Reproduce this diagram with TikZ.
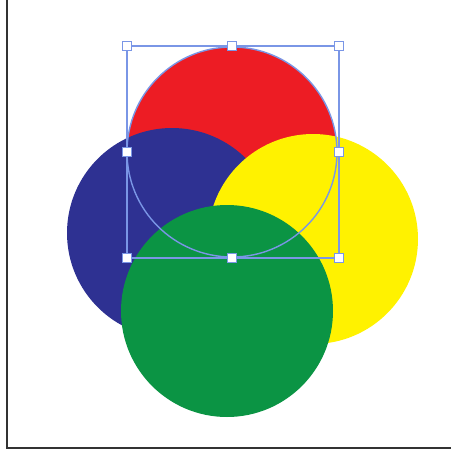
\documentclass[tikz,border=0pt]{standalone}
\usetikzlibrary{positioning}

\definecolor{discred}{HTML}{ED1C24}
\definecolor{discblue}{HTML}{2E3192}
\definecolor{discyellow}{HTML}{FFF200}
\definecolor{discgreen}{HTML}{0B9444}
\definecolor{selblue}{HTML}{7A96E6}

\tikzset{
  handle/.style={draw=selblue,fill=white,line width=.5pt,minimum size=5.5pt,inner sep=0pt,rectangle},
}

\begin{document}
\begin{tikzpicture}[x=0.02cm,y=-0.02cm]
\useasboundingbox (0,0) rectangle (451,454);
\fill[white] (0,0) rectangle (451,454);
% window edge
\draw[black!80,line width=1.2pt] (7,0)--(7,448)--(451,448);
% the four discs
\fill[discred] (232,152) circle (105);
\fill[discblue] (172,233) circle (105);
\fill[discyellow] (313,239) circle (105);
\fill[discgreen] (227,311) circle (106);
% selected path and its bounding box
\draw[selblue,line width=.8pt] (232,152) circle (105);
\draw[selblue,line width=.8pt] (127,46) rectangle (339,258);
\node[handle] (tl) at (127,46) {};
\node[handle] (tm) at (232,46) {};
\node[handle] (tr) at (339,46) {};
\node[handle] (ml) at (127,152) {};
\node[handle] (mr) at (339,152) {};
\node[handle] (bl) at (127,258) {};
\node[handle] (bm) at (232,258) {};
\node[handle] (br) at (339,258) {};
\end{tikzpicture}
\end{document}
